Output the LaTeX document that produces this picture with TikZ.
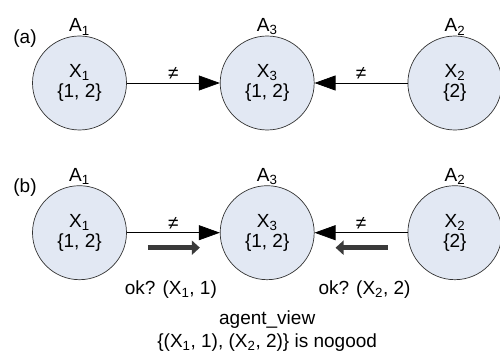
\documentclass[tikz,border=0pt]{standalone}
\usepackage{fontspec}
\setmainfont{Liberation Sans}
\usepackage{xcolor}
\definecolor{agentfill}{HTML}{E2E8F3}
\definecolor{msggray}{HTML}{3A3A3A}
\usetikzlibrary{arrows.meta, positioning, calc}

\begin{document}
\begin{tikzpicture}[x=1pt, y=-1pt,
    every node/.style={font=\fontsize{19}{20}\selectfont},
    agent/.style={circle, draw=black!80, fill=agentfill, minimum size=94pt, inner sep=0pt, align=center, line width=0.7pt},
    arr/.style={-{Triangle[length=21pt, width=15pt]}, line width=0.7pt},
    msg/.style={-{Triangle[length=8pt, width=14pt]}, line width=5pt, color=msggray},
]
    \useasboundingbox (0,0) rectangle (500,358);

    % (a)
    \node[agent] (a1) at (79.5,83) {X\textsubscript{1}\\\{1, 2\}};
    \node[agent, right=93pt of a1] (a3) {X\textsubscript{3}\\\{1, 2\}};
    \node[agent, right=93pt of a3] (a2) {X\textsubscript{2}\\\{2\}};
    \node (taga) at (25,39) {(a)};
    \node[above=-3pt of a1] (na1) {A\textsubscript{1}};
    \node[above=-3pt of a3] (na3) {A\textsubscript{3}};
    \node[above=-3pt of a2] (na2) {A\textsubscript{2}};

    \draw[arr] (a1) -- node[above] (nea) {≠} (a3);
    \draw[arr] (a2) -- node[above] (neb) {≠} (a3);

    % (b)
    \node[agent, below=55pt of a1] (b1) {X\textsubscript{1}\\\{1, 2\}};
    \node[agent, right=93pt of b1] (b3) {X\textsubscript{3}\\\{1, 2\}};
    \node[agent, right=93pt of b3] (b2) {X\textsubscript{2}\\\{2\}};
    \node (tagb) at (25,188) {(b)};
    \node[above=-3pt of b1] (nb1) {A\textsubscript{1}};
    \node[above=-3pt of b3] (nb3) {A\textsubscript{3}};
    \node[above=-3pt of b2] (nb2) {A\textsubscript{2}};

    \draw[arr] (b1) -- node[above] (nec) {≠} (b3);
    \draw[arr] (b2) -- node[above] (ned) {≠} (b3);

    % ok? messages
    \coordinate (m1s) at ($(b1.east)+(21,15)$);
    \coordinate (m1e) at ($(b3.west)+(-20,15)$);
    \coordinate (m2s) at ($(b2.west)+(-20,15)$);
    \coordinate (m2e) at ($(b3.east)+(21,15)$);
    \draw[msg] (m1s) -- (m1e);
    \draw[msg] (m2s) -- (m2e);
    \node[below=29pt of $(m1s)!0.5!(m1e)$, xshift=-3pt] (ok1) {ok? (X\textsubscript{1}, 1)};
    \node[below=29pt of $(m2s)!0.5!(m2e)$, xshift=3pt] (ok2) {ok? (X\textsubscript{2}, 2)};

    % agent_view
    \node[below=27pt of b3, align=center, font=\fontsize{19}{23}\selectfont] (view)
        {agent\_view\\\{(X\textsubscript{1}, 1), (X\textsubscript{2}, 2)\} is nogood};
\end{tikzpicture}
\end{document}
